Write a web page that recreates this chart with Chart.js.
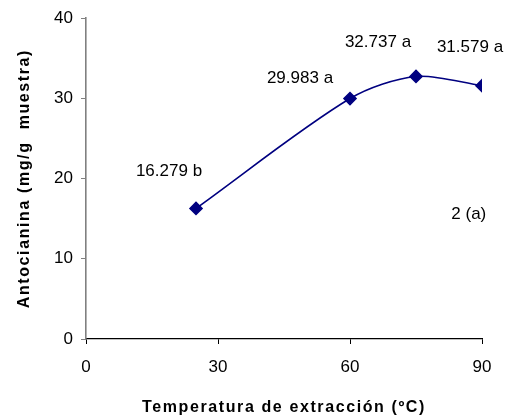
<!DOCTYPE html>
<html><head><meta charset="utf-8">
<script src="https://cdn.jsdelivr.net/npm/chart.js@4"></script>
<style>html,body{margin:0;padding:0;background:#fff}#wrap{width:516px;height:419px}</style>
</head><body><div id="wrap"><canvas id="c" width="516" height="419"></canvas></div>
<script>
// ---- data ----
const temperatures = [25, 60, 75, 90];
const anthocyanin = [16.279, 29.983, 32.737, 31.579];
const pointLabels = ['16.279 b', '29.983 a', '32.737 a', '31.579 a'];
const xTicks = [0, 30, 60, 90];
const yTicks = [0, 10, 20, 30, 40];
const xTitle = 'Temperatura de extracción (ºC)';
const yTitle = 'Antocianina (mg/g  muestra)';
const panelLabel = '2 (a)';
const panelLabelX = [87];
const panelLabelY = [15.6];

// ---- styling / positions ----
const labelOffsets = [[-27, -37], [-50, -20], [-38, -34], [-12, -38]];
const FONT = '"Liberation Sans", Arial, sans-serif';

const labelPlugin = {
  id: 'pointLabels',
  afterDatasetsDraw(chart) {
    const {ctx, scales: {x, y}} = chart;
    ctx.save();
    ctx.font = '17px ' + FONT;
    ctx.fillStyle = '#000';
    ctx.textAlign = 'center';
    ctx.textBaseline = 'middle';
    temperatures.forEach((t, i) => {
      ctx.fillText(pointLabels[i], x.getPixelForValue(t) + labelOffsets[i][0], y.getPixelForValue(anthocyanin[i]) + labelOffsets[i][1]);
    });
    ctx.fillText(panelLabel, x.getPixelForValue(panelLabelX[0]), y.getPixelForValue(panelLabelY[0]));
    ctx.restore();
  }
};

const spacingPlugin = {
  id: 'titleSpacing',
  beforeDraw(chart) {
    Object.values(chart.scales).forEach(s => {
      if (s._spacedTitle) return;
      const orig = s.drawTitle;
      s.drawTitle = function () {
        this.ctx.save();
        this.ctx.letterSpacing = '1.6px';
        orig.call(this);
        this.ctx.restore();
      };
      s._spacedTitle = true;
    });
  }
};

new Chart(document.getElementById('c'), {
  type: 'line',
  data: {
    datasets: [{
      data: temperatures.map((t, i) => ({x: t, y: anthocyanin[i]})),
      borderColor: '#000080',
      backgroundColor: '#000080',
      borderWidth: 1.6,
      pointStyle: 'rectRot',
      pointRadius: 6,
      pointHoverRadius: 6,
      tension: 0.3,
      fill: false
    }]
  },
  options: {
    responsive: false,
    animation: false,
    events: [],
    layout: {padding: {top: 15, right: 34, left: 0, bottom: 0}},
    plugins: {legend: {display: false}, tooltip: {enabled: false}},
    scales: {
      x: {
        type: 'linear', min: 0, max: 90,
        afterBuildTicks: s => { s.ticks = xTicks.map(v => ({value: v})); },
        afterFit: s => { s.height = 80; },
        border: {display: true, color: '#000', width: 1.3},
        grid: {drawOnChartArea: false, drawTicks: true, tickLength: 5, color: '#000'},
        ticks: {font: {family: FONT, size: 17}, color: '#000', padding: 13, maxRotation: 0},
        title: {display: true, text: xTitle, color: '#000', font: {family: FONT, size: 16, weight: 'bold'}, padding: {top: 0, bottom: 2}}
      },
      y: {
        type: 'linear', min: 0, max: 40,
        afterBuildTicks: s => { s.ticks = yTicks.map(v => ({value: v})); },
        afterFit: s => { s.width = 86; },
        border: {display: true, color: '#808080', width: 1.6},
        grid: {drawOnChartArea: false, drawTicks: true, tickLength: 5, color: '#808080'},
        ticks: {font: {family: FONT, size: 17}, color: '#000', padding: 8},
        title: {display: true, text: yTitle, color: '#000', font: {family: FONT, size: 16, weight: 'bold'}, padding: {top: 15, bottom: 0}}
      }
    }
  },
  plugins: [labelPlugin, spacingPlugin]
});
</script></body></html>
